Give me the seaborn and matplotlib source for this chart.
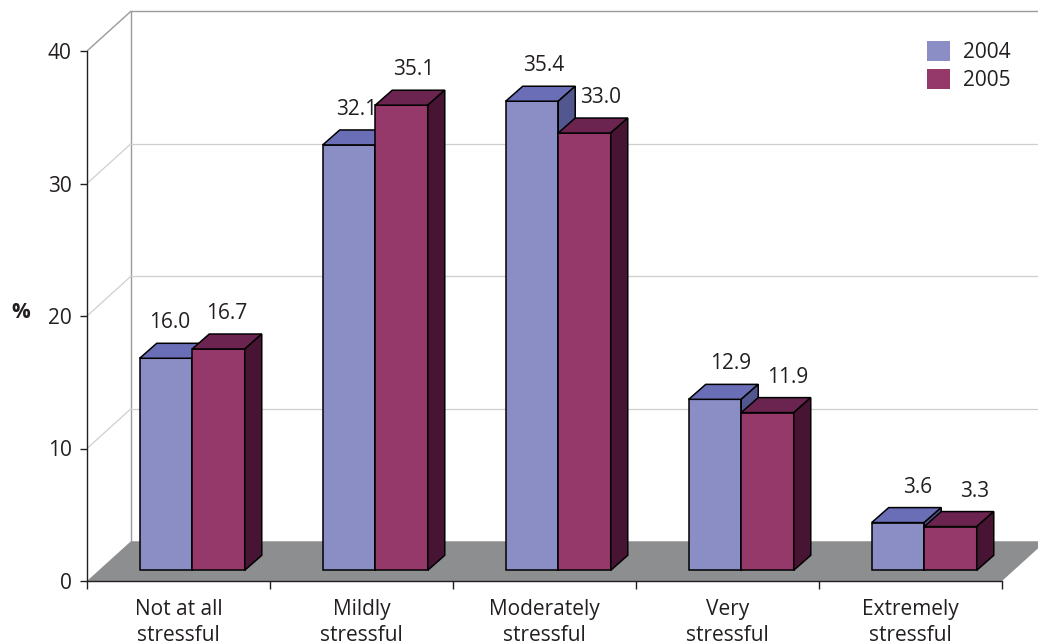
import matplotlib
matplotlib.use("Agg")
import matplotlib.pyplot as plt
from matplotlib.patches import Polygon, Patch
import numpy as np
import pandas as pd
import seaborn as sns

sns.set_theme(style="white")
plt.rcParams["font.family"] = ["Open Sans", "DejaVu Sans"]

categories = ["Not at all\nstressful", "Mildly\nstressful", "Moderately\nstressful",
              "Very\nstressful", "Extremely\nstressful"]
years = ["2004", "2005"]
values_2004 = [16.0, 32.1, 35.4, 12.9, 3.6]
values_2005 = [16.7, 35.1, 33.0, 11.9, 3.3]
y_ticks = [0, 10, 20, 30, 40]

front_colors = {"2004": "#8b8ec5", "2005": "#95386a"}
top_colors = {"2004": "#6a6eb6", "2005": "#6b2450"}
side_colors = {"2004": "#52578f", "2005": "#481433"}
text_color = "#231f20"
fs = 15

# pseudo-3D geometry (data units)
wall_dx, wall_dy = 0.240, 3.0       # depth of floor / back wall
bar_off_x, bar_off_y = 0.075, 0.81  # bar front face position on floor
bar_dx, bar_dy = 0.093, 1.13        # bar depth
px = 1 / 183                        # one pixel along x in data units

df = pd.DataFrame({
    "category": categories * 2,
    "year": [years[0]] * len(categories) + [years[1]] * len(categories),
    "value": values_2004 + values_2005,
})

fig = plt.figure(figsize=(10.38, 6.41), dpi=100)
ax = fig.add_axes([87 / 1038, 60 / 641, 951 / 1038, 581 / 641])

sns.barplot(data=df, x="category", y="value", hue="year", order=categories,
            hue_order=years, palette=front_colors, saturation=1, width=0.574,
            errorbar=None, bottom=bar_off_y, edgecolor="black", linewidth=1.1,
            legend=False, ax=ax)

x_lo, x_hi = -0.5, len(categories) - 0.5
ax.set_xlim(x_lo, x_lo + 951 / 183)
ax.set_ylim(0, 581 / 13.25)

# floor
ax.add_patch(Polygon([(x_lo, 0), (x_lo + wall_dx, wall_dy),
                      (x_hi + wall_dx, wall_dy), (x_hi, 0)],
                     closed=True, facecolor="#8d8e90", edgecolor="none", zorder=1))
# back wall and side wall lines
top_v = y_ticks[-1]
ax.plot([x_lo + wall_dx, x_lo + wall_dx], [wall_dy, top_v + wall_dy],
        color="#9a9a9a", lw=1.0, zorder=1)
ax.plot([x_lo + wall_dx, x_hi + wall_dx], [top_v + wall_dy, top_v + wall_dy],
        color="#9a9a9a", lw=1.0, zorder=1)
ax.plot([x_lo, x_lo + wall_dx], [top_v, top_v + wall_dy], color="#9a9a9a", lw=1.0, zorder=1)
for v in y_ticks[1:-1]:
    ax.plot([x_lo + wall_dx, x_hi + wall_dx], [v + wall_dy, v + wall_dy],
            color="#cfcfcf", lw=0.9, zorder=1)
    ax.plot([x_lo, x_lo + wall_dx], [v, v + wall_dy], color="#cfcfcf", lw=0.9, zorder=1)

# 3D faces for each bar
n = len(categories)
for k, patch in enumerate(ax.patches[:2 * n]):
    j, i = divmod(k, n)
    year = years[j]
    z = 3 + j
    patch.set_x(patch.get_x() + bar_off_x)
    patch.set_zorder(z)
    x0, w = patch.get_x(), patch.get_width()
    b, h = patch.get_y(), patch.get_height()
    top = b + h
    ax.add_patch(Polygon([(x0, top), (x0 + w, top), (x0 + w + bar_dx, top + bar_dy),
                          (x0 + bar_dx, top + bar_dy)], closed=True,
                         facecolor=top_colors[year], edgecolor="black", lw=1.1, zorder=z))
    ax.add_patch(Polygon([(x0 + w, b), (x0 + w + bar_dx, b + bar_dy),
                          (x0 + w + bar_dx, top + bar_dy), (x0 + w, top)], closed=True,
                         facecolor=side_colors[year], edgecolor="black", lw=1.1, zorder=z))
    # labels drift right across the chart, as in the perspective original
    nudge = (4 + 4 * i + 4 * j) * px
    ax.text(x0 + w / 2 + nudge, top + bar_dy + 1.55, f"{h:.1f}",
            ha="center", va="center", fontsize=fs, color=text_color, zorder=6)

# axes styling
for side in ["top", "right"]:
    ax.spines[side].set_visible(False)
ax.spines["left"].set_bounds(0, top_v)
ax.spines["bottom"].set_bounds(x_lo, x_hi)
for side in ["left", "bottom"]:
    ax.spines[side].set_color("#231f20")
    ax.spines[side].set_linewidth(1.0)
    ax.spines[side].set_zorder(5)

ax.set_yticks(y_ticks)
ax.set_yticklabels([str(t) for t in y_ticks])
ax.tick_params(axis="y", left=True, length=5, width=1.0, color="#231f20",
               labelsize=fs, labelcolor=text_color, pad=6)
ax.set_xticks(range(n))
ax.set_xticklabels(categories, linespacing=1.3)
ax.set_xticks(np.arange(n + 1) - 0.5, minor=True)
ax.tick_params(axis="x", which="major", length=0, labelsize=fs,
               labelcolor=text_color, pad=13)
ax.tick_params(axis="x", which="minor", bottom=True, length=6, width=1.0, color="#231f20")
ax.set_xlabel("")
ax.set_ylabel("%", rotation=0, fontsize=fs, fontweight="bold",
              color=text_color, va="center", ha="center")
ax.yaxis.set_label_coords((21 - 87) / 951, (581 - 312) / 581)
ax.grid(False)

handles = [Patch(facecolor=front_colors[y], edgecolor="none", label=y) for y in years]
fig.legend(handles=handles, loc="upper left", bbox_to_anchor=(927 / 1038, 1 - 41 / 641),
           frameon=False, fontsize=fs, handlelength=1.1, handleheight=1.1,
           handletextpad=0.65, labelspacing=0.3, borderpad=0, borderaxespad=0,
           labelcolor=text_color)

fig.savefig("out.png", dpi=100)
plt.close(fig)
